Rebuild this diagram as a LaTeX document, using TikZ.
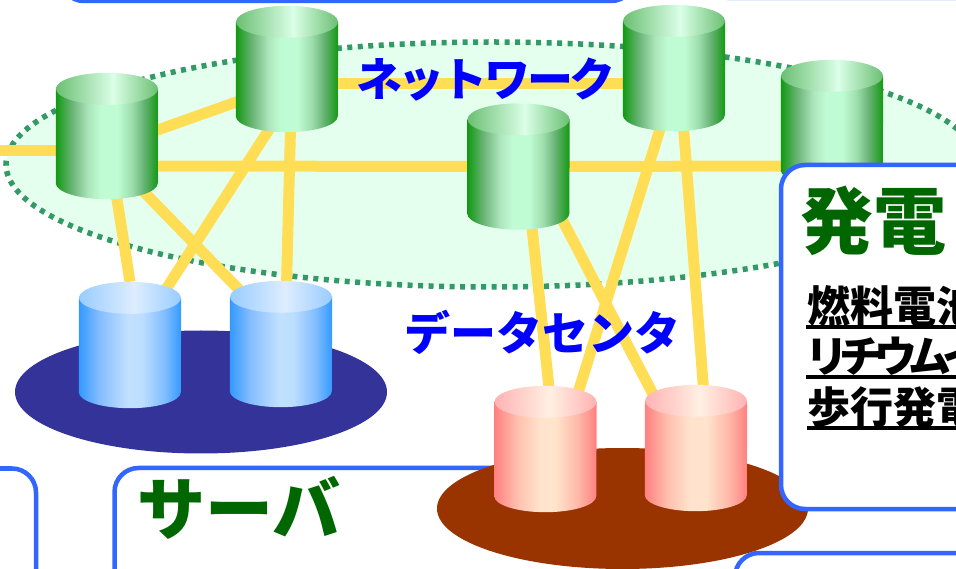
\documentclass[tikz,border=0pt]{standalone}
\usepackage{fontspec}
\usepackage{xcolor}
\usepackage{tikz}
\usetikzlibrary{shapes,shapes.geometric,positioning,calc}
\newfontfamily\jpfont{Noto Sans CJK JP}

\definecolor{linkyellow}{HTML}{FFDD55}
\definecolor{panelblue}{HTML}{3366FF}
\definecolor{netfill}{HTML}{E5FFEE}
\definecolor{netdots}{HTML}{339966}
\definecolor{srvbase}{HTML}{333399}
\definecolor{dcbase}{HTML}{993300}
\definecolor{titlegreen}{HTML}{006600}

\pgfdeclarehorizontalshading{netbody}{100bp}{rgb(0bp)=(.07,.6,.07); rgb(25bp)=(.07,.6,.07); rgb(33bp)=(.42,.71,.47); rgb(41bp)=(.68,.9,.74); rgb(47bp)=(.75,.99,.83); rgb(55bp)=(.75,.99,.83); rgb(62bp)=(.62,.87,.68); rgb(68bp)=(.40,.70,.45); rgb(75bp)=(.07,.6,.07); rgb(100bp)=(.07,.6,.07)}
\pgfdeclarehorizontalshading{nettop}{100bp}{rgb(0bp)=(.42,.75,.45); rgb(25bp)=(.42,.75,.45); rgb(53bp)=(.86,1,.91); rgb(75bp)=(.42,.75,.45); rgb(100bp)=(.42,.75,.45)}
\pgfdeclarehorizontalshading{srvbody}{100bp}{rgb(0bp)=(.2,.6,1); rgb(25bp)=(.2,.6,1); rgb(35bp)=(.52,.74,1); rgb(49bp)=(.76,.88,1); rgb(56bp)=(.74,.87,1); rgb(67bp)=(.5,.74,1); rgb(75bp)=(.2,.6,1); rgb(100bp)=(.2,.6,1)}
\pgfdeclarehorizontalshading{srvtop}{100bp}{rgb(0bp)=(.6,.8,1); rgb(25bp)=(.6,.8,1); rgb(52bp)=(.87,.93,1); rgb(75bp)=(.6,.8,1); rgb(100bp)=(.6,.8,1)}
\pgfdeclarehorizontalshading{dcbody}{100bp}{rgb(0bp)=(1,.5,.5); rgb(25bp)=(1,.5,.5); rgb(36bp)=(1,.75,.68); rgb(47bp)=(1,.89,.8); rgb(55bp)=(1,.89,.8); rgb(66bp)=(1,.72,.66); rgb(75bp)=(1,.5,.5); rgb(100bp)=(1,.5,.5)}
\pgfdeclarehorizontalshading{dctop}{100bp}{rgb(0bp)=(1,.7,.7); rgb(25bp)=(1,.7,.7); rgb(52bp)=(1,.94,.89); rgb(75bp)=(1,.7,.7); rgb(100bp)=(1,.7,.7)}

\begin{document}
\begin{tikzpicture}[
    x=1pt, y=1pt,
    cyl/.style={rectangle, minimum width=102pt, minimum height=126pt, inner sep=0pt},
    link/.style={line width=11pt, linkyellow},
    panel/.style={rectangle, draw=panelblue, line width=4.5pt, fill=white, outer sep=0pt,
                  rounded corners=24pt, anchor=north west},
    base/.style={ellipse, inner sep=0pt, outer sep=0pt},
    blueword/.style={font=\jpfont\bfseries\fontsize{46}{46}\selectfont, text=blue, inner sep=0pt},
    bigword/.style={font=\jpfont\bfseries\fontsize{68}{68}\selectfont, text=titlegreen,
                    inner sep=0pt, anchor=west},
    item/.style={font=\jpfont\bfseries\fontsize{43}{43}\selectfont, inner sep=0pt, anchor=base west},
    under/.style={line width=3.5pt},
  ]
  \useasboundingbox (0,0) rectangle (956,568);
  \clip (0,0) rectangle (956,568);

  % ===== Cylinder positions =====
  \node[cyl] (net1) at (107,432) {};
  \node[cyl] (net2) at (287,499) {};
  \node[cyl] (net3) at (518.5,401.5) {};
  \node[cyl] (net4) at (674,500) {};
  \node[cyl] (net5) at (832,445) {};
  \node[cyl] (srv1) at (130,223) {};
  \node[cyl] (srv2) at (281,224) {};
  \node[cyl] (dc1) at (545.5,119) {};
  \node[cyl] (dc2) at (696,120) {};
  \coordinate (stub) at (0,417);

  % ===== Boxes behind the rest =====
  \node[panel, minimum width=575pt, minimum height=60pt] (topbox) at (60,627) {};
  \node[panel, minimum width=400pt, minimum height=60pt] (topright) at (706,630) {};
  \node[panel, minimum width=140pt, minimum height=200pt] (leftbox) at (-104,99.5) {};
  \node[panel, minimum width=506pt, minimum height=200pt] (srvbox) at (114.5,100) {};

  % ===== Bases =====
  \node[base, fill=netfill, draw=netdots, line width=5.5pt, dash pattern=on 5pt off 5.5pt,
        minimum width=972pt, minimum height=245pt] (netarea) at (492,403.5) {};
  \node[base, fill=srvbase, minimum width=372pt, minimum height=123pt] (srvfloor) at (201,176) {};
  \node[base, fill=dcbase, minimum width=371pt, minimum height=121pt] (dcfloor) at (622.5,59.5) {};

  % ===== Links =====
  \draw[link] (stub) -- ([yshift=-15pt]net1.center);
  \draw[link] ([yshift=-12pt]net1.center) -- ([yshift=-15pt]net2.center);
  \draw[link] ([yshift=-15pt]net2.center) -- ([yshift=-16pt]net4.center);
  \draw[link] ([yshift=-30pt]net1.center) -- (net3.center);
  \draw[link] (net3.center) -- ([yshift=-43pt]net5.center);
  \draw[link] (net1.center) -- (srv1.north);
  \draw[link] ([yshift=-18pt]net1.center) -- ([xshift=11pt]srv2.center);
  \draw[link] ([xshift=21pt]net2.center) -- (srv1.center);
  \draw[link] ([xshift=5pt]net2.center) -- ([xshift=4pt]srv2.center);
  \draw[link] ([xshift=7pt]net3.center) -- ([xshift=10pt]dc1.center);
  \draw[link] ([xshift=16pt]net3.center) -- ([xshift=-15pt]dc2.center);
  \draw[link] ([xshift=5pt]net4.center) -- ([xshift=15pt]dc1.center);
  \draw[link] ([xshift=5pt]net4.center) -- ([xshift=12pt]dc2.center);

  % ===== Cylinders =====
  \foreach \cylname/\bodyshade/\topshade in {net1/netbody/nettop, net2/netbody/nettop,
      net3/netbody/nettop, net4/netbody/nettop, net5/netbody/nettop,
      srv1/srvbody/srvtop, srv2/srvbody/srvtop, dc1/dcbody/dctop, dc2/dcbody/dctop}{
    \shade[shading=\bodyshade] ([yshift=-16pt]\cylname.north west)
      -- ([yshift=16pt]\cylname.south west)
      arc[start angle=180, end angle=360, x radius=51, y radius=16]
      -- ([yshift=-16pt]\cylname.north east) -- cycle;
    \shade[shading=\topshade] ([yshift=-16pt]\cylname.north) ellipse[x radius=51, y radius=16];
  }

  % ===== Panels in front =====
  \node[panel, minimum width=300pt, minimum height=344pt] (powerbox) at (781,403) {};
  \node[panel, minimum width=300pt, minimum height=100pt] (lowbox) at (735,15) {};

  % ===== Words =====
  \node[blueword] (netword) at (486,488) {\addfontfeatures{LetterSpace=-7}ネットワーク};
  \node[blueword] (dcword) at (542,236) {データセンタ};
  \node[bigword, font=\jpfont\bfseries\fontsize{73}{73}\selectfont] (powerword) at (800,347) {発電};
  \node[bigword] (srvword) at (137,60) {サーバ};

  \node[item] (fuel) at (807,245) {燃料電池};
  \node[item] (lith) at (805,195) {\addfontfeatures{LetterSpace=-20}リチウムイオン};
  \node[item] (walk) at (807,144) {歩行発電};
  \draw[under] (fuel.base west) ++(-1,-4) -- ++(200,0);
  \draw[under] (lith.base west) ++(1,-4) -- ++(200,0);
  \draw[under] (walk.base west) ++(0,-4) -- ++(200,0);
\end{tikzpicture}
\end{document}
